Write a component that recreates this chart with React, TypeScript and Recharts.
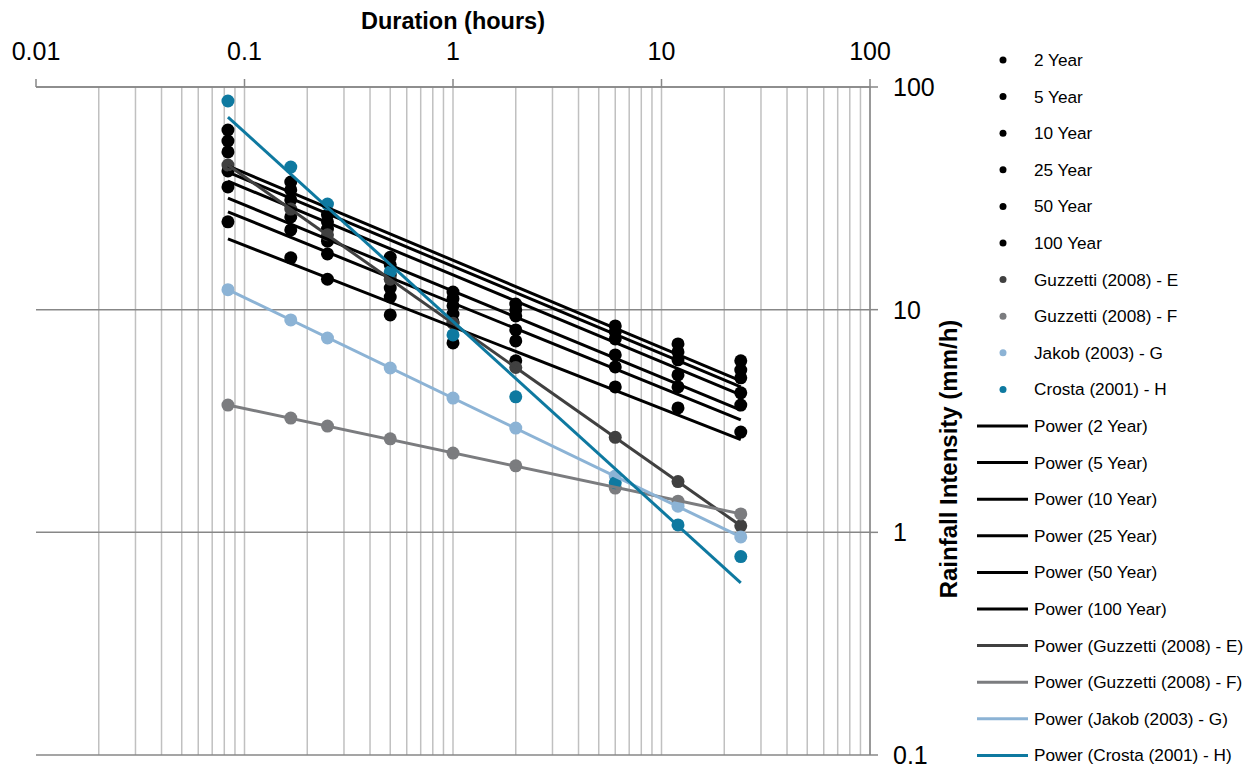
import { CartesianGrid, Scatter, ScatterChart, XAxis, YAxis } from 'recharts';

// durations in hours (5, 10, 15, 30 min, 1, 2, 6, 12, 24 h)
const durations = [0.0833, 0.1667, 0.25, 0.5, 1, 2, 6, 12, 24];

// rainfall intensity (mm/h)
const yr2 = [24.8, 17.1, 13.7, 9.47, 7.09, 5.89, 4.5, 3.62, 2.82];
const yr5 = [35.6, 22.8, 17.8, 11.4, 8.81, 7.24, 5.53, 4.5, 3.73];
const yr10 = [42.0, 26.1, 20.3, 12.5, 9.56, 8.11, 6.26, 5.09, 4.23];
const yr25 = [51.1, 31.1, 23.0, 14.3, 10.4, 9.37, 7.39, 5.95, 4.94];
const yr50 = [57.2, 34.5, 24.8, 15.9, 11.2, 9.97, 7.94, 6.46, 5.36];
const yr100 = [64.1, 37.4, 26.6, 17.2, 12.0, 10.6, 8.45, 7.02, 5.89];
const guzzettiE = [44.6, 28.3, 21.7, 13.7, 8.69, 5.5, 2.67, 1.69, 1.07];
const guzzettiF = [3.73, 3.26, 3.0, 2.63, 2.27, 1.99, 1.58, 1.38, 1.21];
const jakobG = [12.3, 8.99, 7.46, 5.47, 4.01, 2.94, 1.79, 1.31, 0.954];
const crostaH = [86.5, 43.7, 29.8, 14.8, 7.7, 4.06, 1.67, 1.08, 0.778];

// power trendline end points (at 5 min and 24 h)
const trendX = [0.0833, 24];
const trend2 = [20.8, 2.61];
const trend5 = [27.5, 3.2];
const trend10 = [31.7, 3.54];
const trend25 = [37.8, 4.14];
const trend50 = [41.5, 4.5];
const trend100 = [44.2, 4.79];
const trendE = [44.6, 1.07];
const trendF = [3.73, 1.21];
const trendG = [12.3, 0.954];
const trendH = [73.3, 0.593];

const xTicks = [0.01, 0.1, 1, 10, 100];
const yTicks = [0.1, 1, 10, 100];

const names = [
  '2 Year',
  '5 Year',
  '10 Year',
  '25 Year',
  '50 Year',
  '100 Year',
  'Guzzetti (2008) - E',
  'Guzzetti (2008) - F',
  'Jakob (2003) - G',
  'Crosta (2001) - H',
];
const colors = ['#000000', '#000000', '#000000', '#000000', '#000000', '#000000', '#404040', '#7b7c7f', '#8cb3d5', '#0e79a0'];
const pointSeries = [yr2, yr5, yr10, yr25, yr50, yr100, guzzettiE, guzzettiF, jakobG, crostaH];
const trendSeries = [trend2, trend5, trend10, trend25, trend50, trend100, trendE, trendF, trendG, trendH];

const FONT = '"Liberation Sans", Arial, sans-serif';

const toPoints = (xs: number[], ys: number[]) => ys.map((y, i) => ({ x: xs[i], y }));

// minor grid positions 2..9 of every decade (plus decades)
const verticalGrid: number[] = [];
[0.01, 0.1, 1, 10].forEach(d => {
  for (let k = 2; k <= 10; k++) verticalGrid.push(+(d * k).toPrecision(3));
});

function Dot(props: any, color: string) {
  return <circle cx={props.cx} cy={props.cy} r={6.5} fill={color} />;
}

function XTitle(props: any) {
  const vb = props.viewBox;
  return (
    <text x={vb.x + vb.width / 2} y={vb.y - 8} textAnchor="middle" fontFamily={FONT} fontWeight="bold" fontSize={23.5} fill="#000">
      Duration (hours)
    </text>
  );
}

function YTitle(props: any) {
  const vb = props.viewBox;
  const cx = vb.x + 78;
  const cy = vb.y + vb.height / 2 + 38;
  return (
    <text
      x={cx}
      y={cy}
      transform={`rotate(-90, ${cx}, ${cy})`}
      textAnchor="middle"
      dominantBaseline="central"
      fontFamily={FONT}
      fontWeight="bold"
      fontSize={24}
      fill="#000"
    >
      Rainfall Intensity (mm/h)
    </text>
  );
}

function LegendBox() {
  const rowY = (i: number) => 60 + i * 36.6;
  return (
    <svg width={293} height={766} style={{ position: 'absolute', left: 960, top: 0 }}>
      {names.map((n, i) => (
        <g key={`p-${n}`}>
          <circle cx={43} cy={rowY(i)} r={3.5} fill={colors[i]} />
          <text x={74} y={rowY(i)} dominantBaseline="central" fontFamily={FONT} fontSize={17.2} fill="#000">
            {n}
          </text>
        </g>
      ))}
      {names.map((n, i) => (
        <g key={`t-${n}`}>
          <line x1={17} x2={68} y1={rowY(i + 10)} y2={rowY(i + 10)} stroke={colors[i]} strokeWidth={3} />
          <text x={74} y={rowY(i + 10)} dominantBaseline="central" fontFamily={FONT} fontSize={17.2} fill="#000">
            {`Power (${n})`}
          </text>
        </g>
      ))}
    </svg>
  );
}

export default function App() {
  return (
    <div style={{ position: 'absolute', left: 0, top: 0, width: 1253, height: 766, background: '#fff' }}>
      <ScatterChart width={1253} height={766} margin={{ top: 37, right: 323, bottom: 11, left: 36 }}>
        <CartesianGrid horizontal={false} verticalValues={verticalGrid} stroke="#c0c0c0" strokeWidth={1.5} />
        <CartesianGrid vertical={false} horizontalValues={yTicks} stroke="#878787" strokeWidth={1.5} />
        <XAxis
          dataKey="x"
          type="number"
          scale="log"
          domain={[0.01, 100]}
          allowDataOverflow
          orientation="top"
          height={50}
          ticks={xTicks}
          interval={0}
          tickFormatter={v => String(v)}
          tickSize={8}
          tickMargin={19}
          axisLine={{ stroke: '#878787', strokeWidth: 1.5 }}
          tickLine={{ stroke: '#878787', strokeWidth: 1.5 }}
          tick={{ fill: '#000', fontSize: 25, fontFamily: FONT }}
          label={XTitle}
        />
        <YAxis
          dataKey="y"
          type="number"
          scale="log"
          domain={[0.1, 100]}
          allowDataOverflow
          orientation="right"
          width={60}
          ticks={yTicks}
          interval={0}
          tickFormatter={v => String(v)}
          tickSize={8}
          tickMargin={15}
          axisLine={{ stroke: '#878787', strokeWidth: 1.5 }}
          tickLine={{ stroke: '#878787', strokeWidth: 1.5 }}
          tick={{ fill: '#000', fontSize: 25, fontFamily: FONT }}
          label={YTitle}
        />
        {pointSeries.map((s, i) => (
          <Scatter
            key={`pts-${names[i]}`}
            name={names[i]}
            data={toPoints(durations, s)}
            shape={(p: any) => Dot(p, colors[i])}
            isAnimationActive={false}
          />
        ))}
        {trendSeries.map((s, i) => (
          <Scatter
            key={`trend-${names[i]}`}
            name={`Power (${names[i]})`}
            data={toPoints(trendX, s)}
            line={{ stroke: colors[i], strokeWidth: 3 }}
            shape={() => <g />}
            isAnimationActive={false}
          />
        ))}
      </ScatterChart>
      <LegendBox />
    </div>
  );
}
